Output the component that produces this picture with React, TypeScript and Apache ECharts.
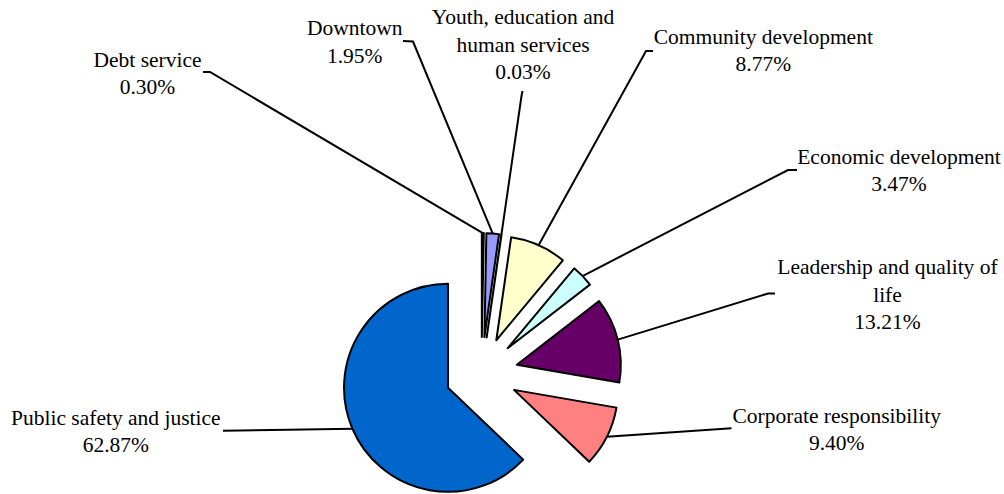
import React, { useEffect, useRef } from "react";
import * as echarts from "echarts";

// ---- data ----
const categories = [
  "Debt service",
  "Downtown",
  "Youth, education and human services",
  "Community development",
  "Economic development",
  "Leadership and quality of life",
  "Corporate responsibility",
  "Public safety and justice",
];
const labelTexts = [
  "Debt service",
  "Downtown",
  "Youth, education and\nhuman services",
  "Community development",
  "Economic development",
  "Leadership and quality of\nlife",
  "Corporate responsibility",
  "Public safety and justice",
];
const shares = [0.3, 1.95, 0.03, 8.77, 3.47, 13.21, 9.4, 62.87];
const sliceColors = ["#000080", "#9999FF", "#993366", "#FFFFCC", "#CCFFFF", "#660066", "#FF8080", "#0066CC"];

// ---- layout (positions / sizes, not data) ----
const PIE_CX = 481.5;
const PIE_CY = 373.5;
const RADIUS = 104;
const EXPLODE = 36.4;
const FONT = "Liberation Serif";
const labelAnchors: number[][] = [
  [147.5, 73.5],
  [354.7, 42],
  [523, 44.6],
  [763.3, 50.5],
  [899, 170.5],
  [887.5, 294.7],
  [836.7, 429.7],
  [115.8, 431.7],
];
const lineEnds: number[][][] = [
  [[210, 72], [203, 72]],
  [[413, 41.5], [403, 41]],
  [[521.5, 96], [522.5, 91]],
  [[646, 51], [653, 51]],
  [[788, 170], [797, 170]],
  [[768, 293.5], [775, 293.5]],
  [[731.5, 428.3]],
  [[223, 430.7]],
];

function buildOption() {
  const total = shares.reduce((a, b) => a + b, 0);
  let cum = 0;
  const series: any[] = shares.map((v, i) => {
    const mid = ((cum + v / 2) / total) * Math.PI * 2;
    cum += v;
    const cx = PIE_CX + EXPLODE * Math.sin(mid);
    const cy = PIE_CY - EXPLODE * Math.cos(mid);
    const edge = [cx + RADIUS * Math.sin(mid), cy - RADIUS * Math.cos(mid)];
    return {
      type: "pie",
      name: categories[i],
      center: [cx, cy],
      radius: RADIUS,
      startAngle: 90,
      clockwise: true,
      avoidLabelOverlap: false,
      silent: true,
      emphasis: { disabled: true },
      minShowLabelAngle: 0,
      label: {
        show: true,
        position: "outside",
        fontFamily: FONT,
        fontSize: 21.5,
        lineHeight: 27.5,
        color: "#000",
        align: "center",
        formatter: (p: any) => labelTexts[p.dataIndex] + "\n" + shares[p.dataIndex].toFixed(2) + "%",
      },
      labelLine: { show: true, smooth: false, lineStyle: { color: "#000", width: 2 } },
      labelLayout: (params: any) => {
        if (params.dataIndex !== i) return {};
        const p0 = params.labelLinePoints && params.labelLinePoints[0] ? params.labelLinePoints[0] : edge;
        const ends = lineEnds[i];
        const pts =
          ends.length === 2
            ? [p0, ends[0], ends[1]]
            : [p0, [(p0[0] + ends[0][0]) / 2, (p0[1] + ends[0][1]) / 2], ends[0]];
        return {
          x: labelAnchors[i][0],
          y: labelAnchors[i][1],
          align: "center",
          verticalAlign: "middle",
          labelLinePoints: pts,
        };
      },
      data: categories.map((name, j) =>
        j === i
          ? {
              name,
              value: shares[j],
              itemStyle: { color: sliceColors[j], borderColor: "#000", borderWidth: 2 },
            }
          : {
              name,
              value: shares[j],
              itemStyle: { color: "rgba(0,0,0,0)", borderWidth: 0 },
              label: { show: false },
              labelLine: { show: false },
            }
      ),
    };
  });
  return {
    animation: false,
    backgroundColor: "#fff",
    textStyle: { fontFamily: FONT },
    tooltip: { show: false },
    series,
  };
}

export default function App() {
  const ref = useRef<HTMLDivElement>(null);
  useEffect(() => {
    if (!ref.current) return;
    const chart = echarts.init(ref.current, undefined, { renderer: "svg" });
    chart.setOption(buildOption() as any);
    return () => chart.dispose();
  }, []);
  return (
    <div
      ref={ref}
      style={{ position: "absolute", left: 0, top: 0, width: 1004, height: 494, background: "#fff" }}
    />
  );
}
